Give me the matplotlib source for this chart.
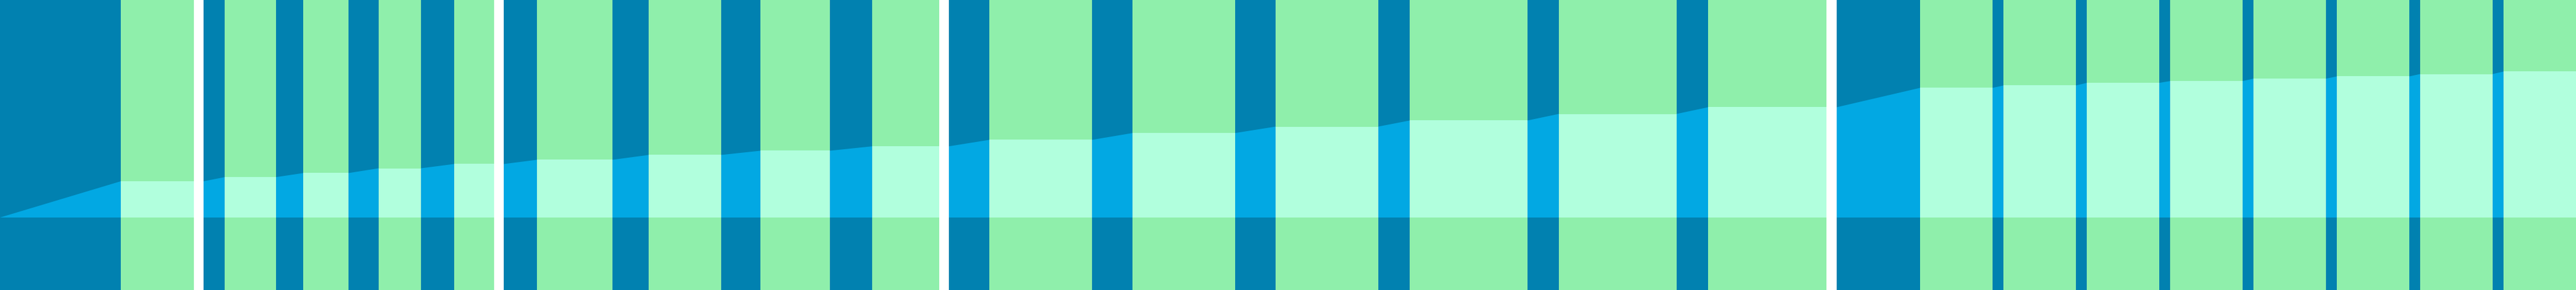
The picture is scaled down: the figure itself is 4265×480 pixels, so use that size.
import matplotlib
matplotlib.use("Agg")
import matplotlib.pyplot as plt

# ---- data ----
bar_start = [200, 372, 502, 627, 752, 889, 1074, 1259, 1444, 1638, 1875, 2112,
             2334, 2581, 2828, 3179, 3317, 3455, 3593, 3731, 3869, 4007, 4145]
bar_end = [320.5, 457, 577, 697, 818, 1014, 1194, 1374, 1555, 1808, 2045, 2282,
           2529, 2776, 3024, 3299, 3437, 3575, 3713, 3851, 3989, 4127, 4265]
values = [0.50, 0.557, 0.613, 0.679, 0.738, 0.796, 0.863, 0.921, 0.982, 1.071,
          1.165, 1.254, 1.338, 1.429, 1.521, 1.788, 1.821, 1.857, 1.882, 1.915,
          1.946, 1.979, 2.013]
sep_start = [320.5, 818, 1555, 3024]
sep_end = [337.3, 834.3, 1571, 3041]

x_min, x_max = 0, 4265
y_min, y_max = -1, 3

DARK = "#0181B0"
BRIGHT = "#02A8E3"
GREEN = "#8FEFAB"
MINT = "#B1FFDD"

fig = plt.figure(figsize=(42.65, 4.8), dpi=100)
fig.patch.set_facecolor(DARK)
ax = fig.add_axes([0, 0, 1, 1])
ax.set_facecolor(DARK)

# interpolated area between bars
xs = [x_min]
ys = [0]
for s, e, v in zip(bar_start, bar_end, values):
    xs += [s, e]
    ys += [v, v]
    if e in sep_start:
        xs.append(sep_end[sep_start.index(e)])
        ys.append(v)
ax.fill_between(xs, 0, ys, color=BRIGHT, linewidth=0)

widths = [e - s for s, e in zip(bar_start, bar_end)]
ax.bar(bar_start, y_max - y_min, width=widths, bottom=y_min, align="edge",
       color=GREEN, linewidth=0)
ax.bar(bar_start, values, width=widths, bottom=0, align="edge",
       color=MINT, linewidth=0)

for s, e in zip(sep_start, sep_end):
    ax.axvspan(s, e, color="white", linewidth=0)

ax.set_xlim(x_min, x_max)
ax.set_ylim(y_min, y_max)
ax.set_xticks([])
ax.set_yticks([])
for sp in ax.spines.values():
    sp.set_visible(False)
fig.savefig("out.png", dpi=100, facecolor=DARK)
